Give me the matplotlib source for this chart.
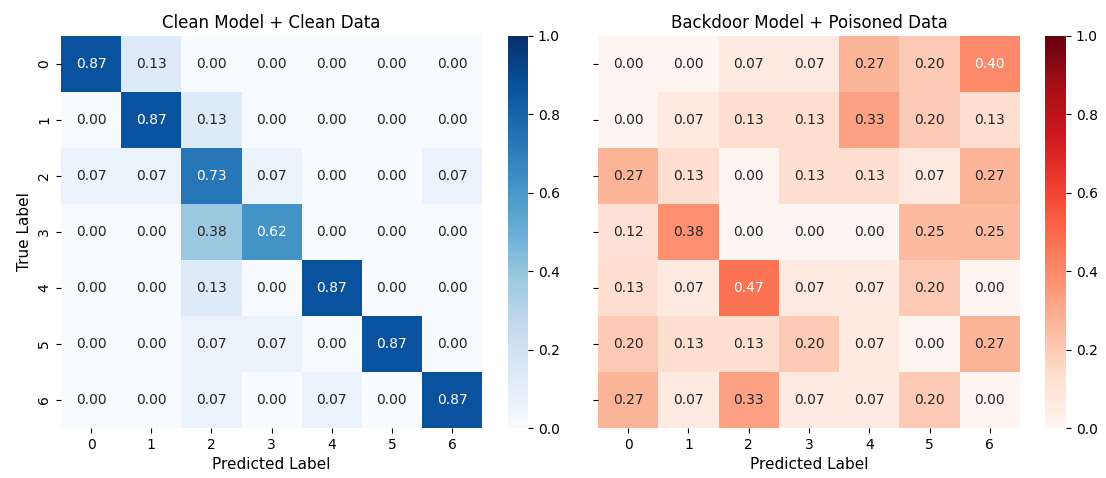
import numpy as np
import matplotlib
matplotlib.use('Agg')
import matplotlib.pyplot as plt
import seaborn as sns

labels = ['0', '1', '2', '3', '4', '5', '6']

clean_cm = [
    [0.87, 0.13, 0.00, 0.00, 0.00, 0.00, 0.00],
    [0.00, 0.87, 0.13, 0.00, 0.00, 0.00, 0.00],
    [0.07, 0.07, 0.73, 0.07, 0.00, 0.00, 0.07],
    [0.00, 0.00, 0.38, 0.62, 0.00, 0.00, 0.00],
    [0.00, 0.00, 0.13, 0.00, 0.87, 0.00, 0.00],
    [0.00, 0.00, 0.07, 0.07, 0.00, 0.87, 0.00],
    [0.00, 0.00, 0.07, 0.00, 0.07, 0.00, 0.87],
]

backdoor_cm = [
    [0.00, 0.00, 0.07, 0.07, 0.27, 0.20, 0.40],
    [0.00, 0.07, 0.13, 0.13, 0.33, 0.20, 0.13],
    [0.27, 0.13, 0.00, 0.13, 0.13, 0.07, 0.27],
    [0.12, 0.38, 0.00, 0.00, 0.00, 0.25, 0.25],
    [0.13, 0.07, 0.47, 0.07, 0.07, 0.20, 0.00],
    [0.20, 0.13, 0.13, 0.20, 0.07, 0.00, 0.27],
    [0.27, 0.07, 0.33, 0.07, 0.07, 0.20, 0.00],
]

fig = plt.figure(figsize=(11.06, 4.78), dpi=100)
ax1 = fig.add_axes([0.0552, 0.1046, 0.3807, 0.8201])
cax1 = fig.add_axes([0.4593, 0.1046, 0.0181, 0.8201])
ax2 = fig.add_axes([0.5407, 0.1046, 0.3816, 0.8201])
cax2 = fig.add_axes([0.9448, 0.1046, 0.0190, 0.8201])

# clean model
sns.heatmap(np.array(clean_cm), annot=True, fmt='.2f', cmap='Blues', vmin=0, vmax=1,
            xticklabels=labels, yticklabels=labels, ax=ax1, cbar_ax=cax1,
            annot_kws={'fontsize': 10})
ax1.set_title('Clean Model + Clean Data', fontsize=12)
ax1.set_xlabel('Predicted Label', fontsize=11)
ax1.set_ylabel('True Label', fontsize=11)

# backdoor model
sns.heatmap(np.array(backdoor_cm), annot=True, fmt='.2f', cmap='Reds', vmin=0, vmax=1,
            xticklabels=labels, yticklabels=labels, ax=ax2, cbar_ax=cax2,
            annot_kws={'fontsize': 10})
ax2.set_title('Backdoor Model + Poisoned Data', fontsize=12)
ax2.set_xlabel('Predicted Label', fontsize=11)
ax2.tick_params(axis='y', labelleft=False)

plt.savefig('out.png')
